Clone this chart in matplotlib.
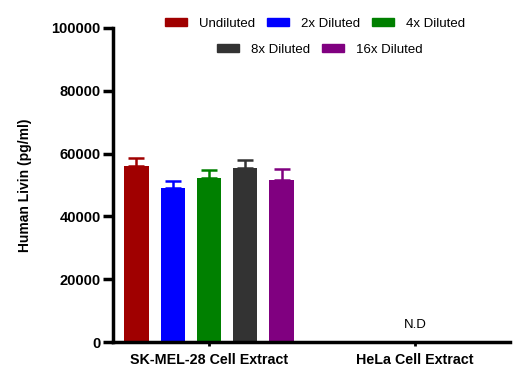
import matplotlib
matplotlib.use("Agg")
import matplotlib.pyplot as plt
from matplotlib.patches import Patch
import numpy as np

plt.rcParams['font.family'] = ['Liberation Sans', 'DejaVu Sans']

categories = ["SK-MEL-28 Cell Extract", "HeLa Cell Extract"]
series = ["Undiluted", "2x Diluted", "4x Diluted", "8x Diluted", "16x Diluted"]
colors = ["#a00000", "#0000ff", "#008000", "#333333", "#800080"]
means = [56000, 49000, 52200, 55400, 51600]
errors = [2600, 2300, 2500, 2600, 3500]
yticks = [0, 20000, 40000, 60000, 80000, 100000]

fig = plt.figure(figsize=(5.17, 3.83), dpi=100)
ax = fig.add_axes([113/517, 1-342/383, (510-113)/517, (342-28)/383])

width = 0.118
step = 0.176
for i, (s, c, m, e) in enumerate(zip(series, colors, means, errors)):
    x = 0 + (i - 2) * step
    ax.bar(x, m, width=width, color=c, label=s, zorder=2)
    ax.errorbar(x, m, yerr=[[0], [e]], fmt='none', ecolor=c, elinewidth=1.8,
                capsize=6, capthick=1.8, zorder=1)

ax.text(1, 5500, "N.D", ha='center', va='center', fontsize=9.5)

ax.set_xlim(-0.466, 1.461)
ax.set_ylim(0, 100000)
ax.set_yticks(yticks)
ax.set_yticklabels([str(v) for v in yticks], fontweight='bold', fontsize=10.5)
ax.set_xticks([0, 1])
ax.set_xticklabels(categories, fontweight='bold', fontsize=10.3)
ax.set_ylabel("Human Livin (pg/ml)", fontweight='bold', fontsize=10, labelpad=14)

for sp in ['top', 'right']:
    ax.spines[sp].set_visible(False)
for sp in ['left', 'bottom']:
    ax.spines[sp].set_linewidth(2.5)
ax.tick_params(axis='y', width=2.5, length=7, direction='out', pad=2)
ax.tick_params(axis='x', width=2, length=3, direction='out', pad=5)

h = [Patch(color=c) for c in colors]
kw = dict(frameon=False, fontsize=9.5, handlelength=1.67, handleheight=0.55,
          columnspacing=0.9, handletextpad=0.9, borderpad=0, borderaxespad=0)
leg1 = fig.legend(h[:3], series[:3], loc='center', bbox_to_anchor=(315/517, 1-24/383),
                  ncol=3, **kw)
leg2 = fig.legend(h[3:], series[3:], loc='center', bbox_to_anchor=(320/517, 1-50/383),
                  ncol=2, **kw)

fig.savefig("out.png", dpi=100)
